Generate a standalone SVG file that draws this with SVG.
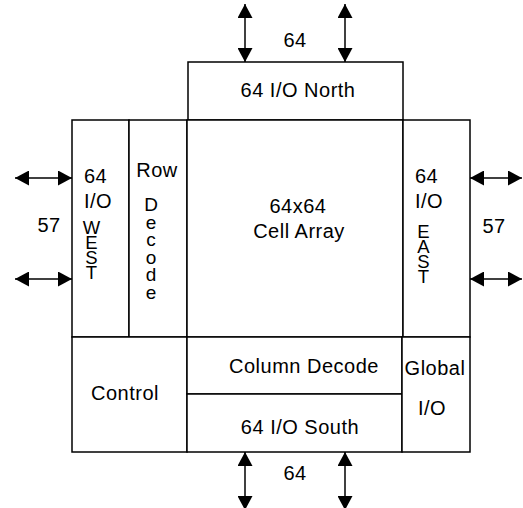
<svg xmlns="http://www.w3.org/2000/svg" width="523" height="508" viewBox="0 0 523 508">
<defs>
<marker id="ah" markerUnits="userSpaceOnUse" markerWidth="15" markerHeight="15" viewBox="0 0 14 15" refX="14" refY="7.5" orient="auto-start-reverse">
<path d="M0,0 L14,7.5 L0,15 z" fill="#000"/>
</marker>
<style>
.b{fill:#fff;stroke:#000;stroke-width:1.5}
.t{font-family:"Liberation Sans",Arial,sans-serif;font-size:20px;fill:#000;letter-spacing:0.5px}
.v{font-size:18.5px;writing-mode:vertical-rl;text-orientation:upright;letter-spacing:-6px}
.vd{font-size:19px;writing-mode:vertical-rl;text-orientation:upright;letter-spacing:-3.4px}
.m{text-anchor:middle}
.c{stroke:#000;stroke-width:1.5;fill:none;marker-start:url(#ah);marker-end:url(#ah)}
</style>
</defs>
<rect width="523" height="508" fill="#fff"/>
<g id="north"><rect class="b" x="188" y="62" width="215" height="58"/><text class="t m" x="298" y="97">64 I/O North</text></g>
<g id="west"><rect class="b" x="72" y="120" width="57" height="217"/>
<text class="t" x="84" y="183">64</text><text class="t" x="84" y="208">I/O</text>
<text class="t v" x="91.5" y="217">WEST</text></g>
<g id="rowdecode"><rect class="b" x="129" y="120" width="58" height="217"/>
<text class="t m" x="157" y="177">Row</text>
<text class="t vd" x="151" y="194">Decode</text></g>
<g id="cellarray"><rect class="b" x="187" y="120" width="216" height="217"/>
<text class="t m" x="298" y="213">64x64</text><text class="t m" x="299" y="238">Cell Array</text></g>
<g id="east"><rect class="b" x="403" y="120" width="67" height="217"/>
<text class="t" x="415" y="183">64</text><text class="t" x="415" y="208">I/O</text>
<text class="t v" x="423.5" y="221">EAST</text></g>
<g id="control"><rect class="b" x="72" y="337" width="115" height="115"/><text class="t m" x="125" y="400">Control</text></g>
<g id="columndecode"><rect class="b" x="187" y="337" width="215" height="57"/><text class="t m" x="304" y="373">Column Decode</text></g>
<g id="south"><rect class="b" x="187" y="394" width="215" height="58"/><text class="t m" x="300" y="434">64 I/O South</text></g>
<g id="globalio"><rect class="b" x="402" y="337" width="68" height="115"/><text class="t m" x="435" y="375">Global</text><text class="t m" x="432" y="415">I/O</text></g>
<g id="connectors">
<line class="c" x1="245" y1="4" x2="245" y2="62"/>
<line class="c" x1="345" y1="4" x2="345" y2="62"/>
<line class="c" x1="245" y1="452" x2="245" y2="510"/>
<line class="c" x1="345" y1="452" x2="345" y2="510"/>
<line class="c" x1="15" y1="178" x2="72" y2="178"/>
<line class="c" x1="15" y1="279" x2="72" y2="279"/>
<line class="c" x1="470" y1="178" x2="522" y2="178"/>
<line class="c" x1="470" y1="279" x2="522" y2="279"/>
<text class="t m" x="295" y="47">64</text>
<text class="t m" x="295" y="480">64</text>
<text class="t m" x="49" y="232">57</text>
<text class="t m" x="494" y="233">57</text>
</g>
</svg>
